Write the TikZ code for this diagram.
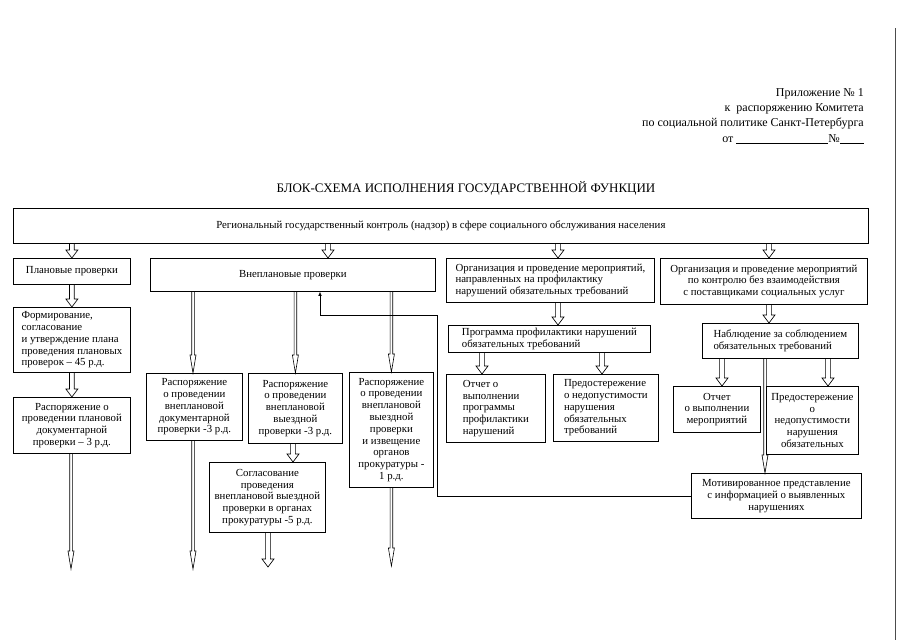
\documentclass[tikz,border=0pt]{standalone}
\usepackage{fontspec}
\setmainfont{Liberation Serif}
\usetikzlibrary{calc,arrows.meta}
\newcommand\bxfont{\fontsize{10.8}{11.8}\selectfont}
\begin{document}
\begin{tikzpicture}[x=1pt,y=-1pt,
  box/.style={draw, line width=0.8pt, anchor=north west, inner xsep=2pt, inner ysep=0pt, font=\bxfont},
  harrow/.style={draw, line width=0.65pt, to path={
    let \p1=(\tikztostart), \p2=(\tikztotarget) in
    (\x1-2.4pt,\y1) -- (\x1-2.4pt,\y2+8pt) -- (\x1-6pt,\y2+8pt) -- (\x1,\y2)
    -- (\x1+6pt,\y2+8pt) -- (\x1+2.4pt,\y2+8pt) -- (\x1+2.4pt,\y1)}},
  narrow/.style={draw, line width=0.6pt, to path={
    let \p1=(\tikztostart), \p2=(\tikztotarget) in
    (\x1-1.3pt,\y1) -- (\x1-1.3pt,\y2+18pt) -- (\x1-3pt,\y2+18pt) -- (\x1,\y2)
    -- (\x1+3pt,\y2+18pt) -- (\x1+1.3pt,\y2+18pt) -- (\x1+1.3pt,\y1)}},
  fb/.style={draw, line width=0.6pt, -{Latex[length=4pt,width=3.5pt]}},
]
\useasboundingbox (0,0) rectangle (905,640);
\fill[white] (0,0) rectangle (905,640);

% header
\node[anchor=north east, align=right, font=\fontsize{12}{15.4}\selectfont, inner sep=0pt] (hdr) at (864,88)
  {Приложение № 1\\ к\ \ распоряжению Комитета\\ по социальной политике Санкт-Петербурга\\
   от \rule[-1.6pt]{92pt}{0.5pt}№\rule[-1.6pt]{24pt}{0.5pt}};
\node[font=\fontsize{13}{14}\selectfont, inner sep=0pt] (title) at (466,188)
  {БЛОК-СХЕМА ИСПОЛНЕНИЯ ГОСУДАРСТВЕННОЙ ФУНКЦИИ};

% boxes
\node[box, minimum width=855pt, minimum height=35pt] (top) at (13,208)
  {Региональный государственный контроль (надзор) в сфере социального обслуживания населения};
\node[box, minimum width=117pt, minimum height=26pt] (plan) at (13,258) {Плановые проверки};
\node[box, minimum width=285pt, minimum height=33pt] (vnep) at (150,258) {Внеплановые проверки\\[6pt]};
\node[box, minimum width=208pt, minimum height=44pt, align=left] (org1) at (446,258)
  {Организация и проведение мероприятий,\\ направленных на профилактику\\ нарушений обязательных требований};
\node[box, minimum width=207pt, minimum height=46pt, align=center] (org2) at (660,258)
  {Организация и проведение мероприятий\\ по контролю без взаимодействия\\ с поставщиками социальных услуг};

\node[box, minimum width=117pt, minimum height=65pt, align=left] (form) at (13,307)
  {Формирование,\\ согласование\\ и утверждение плана\\ проведения плановых\\ проверок – 45 р.д.};
\node[box, minimum width=117pt, minimum height=56pt, align=center] (rasp1) at (13,397)
  {Распоряжение о\\ проведении плановой\\ документарной\\ проверки – 3 р.д.};

\node[box, minimum width=96pt, minimum height=67pt, align=center] (vr1) at (146,373)
  {Распоряжение\\ о проведении\\ внеплановой\\ документарной\\ проверки -3 р.д.};
\node[box, minimum width=94pt, minimum height=70pt, align=center] (vr2) at (248,373)
  {Распоряжение\\ о проведении\\ внеплановой\\ выездной\\ проверки -3 р.д.};
\node[box, minimum width=84pt, minimum height=115pt, align=center] (vr3) at (349,372)
  {Распоряжение\\ о проведении\\ внеплановой\\ выездной\\ проверки\\ и извещение\\ органов\\ прокуратуры -\\ 1 р.д.};
\node[box, minimum width=116pt, minimum height=70pt, align=center] (sogl) at (209,462)
  {Согласование\\ проведения\\ внеплановой выездной\\ проверки в органах\\ прокуратуры -5 р.д.};

\node[box, minimum width=202pt, minimum height=27pt, align=left] (prog) at (448,325)
  {Программа профилактики нарушений\\ обязательных требований};
\node[box, minimum width=99pt, minimum height=68pt, align=left] (ot1) at (446,374)
  {Отчет о\\ выполнении\\ программы\\ профилактики\\ нарушений};
\node[box, minimum width=105pt, minimum height=67pt, align=left] (pr1) at (553,374)
  {Предостережение\\ о недопустимости\\ нарушения\\ обязательных\\ требований};

\node[box, minimum width=156pt, minimum height=35pt, align=left] (nabl) at (702,323)
  {Наблюдение за соблюдением\\ обязательных требований};
\node[box, minimum width=87pt, minimum height=46pt, align=center] (ot2) at (673,386)
  {Отчет\\ о выполнении\\ мероприятий};
\node[box, minimum width=92pt, minimum height=68pt, align=center] (pr2) at (766,386)
  {Предостережение\\ о\\ недопустимости\\ нарушения\\ обязательных};
\node[box, minimum width=170pt, minimum height=45pt, align=center] (motiv) at (691,473)
  {Мотивированное представление\\ с информацией о выявленных\\ нарушениях};

% helper coordinates
\coordinate (ax1) at (328,0);
\coordinate (ax2) at (558,0);
\coordinate (ax3) at (769,0);
\coordinate (ax4) at (482,0);
\coordinate (ax5) at (602,0);
\coordinate (ax6) at (722,0);
\coordinate (ax7) at (828,0);
\coordinate (ax8) at (293,0);
\coordinate (ax10) at (765,0);
\coordinate (e0) at (71,569);
\coordinate (e1) at (193,569);
\coordinate (e2) at (268,567);
\coordinate (e3) at (391,566);
\coordinate (fbx) at (437,315);

% wide hollow arrows
\path[harrow] (top.south -| plan.north) to (plan.north);
\path[harrow] (top.south -| ax1) to (vnep.north);
\path[harrow] (top.south -| ax2) to (org1.north);
\path[harrow] (top.south -| ax3) to (org2.north);
\path[harrow] (plan.south) to (form.north);
\path[harrow] (form.south) to (rasp1.north);
\path[harrow] (vr2.south -| ax8) to (sogl.north);
\path[harrow] (sogl.south -| e2) to (e2);
\path[harrow] (org1.south -| ax2) to (prog.north);
\path[harrow] (org2.south -| ax3) to (nabl.north);
\path[harrow] (prog.south -| ax4) to (ot1.north);
\path[harrow] (prog.south -| ax5) to (pr1.north);
\path[harrow] (nabl.south -| ax6) to (ot2.north);
\path[harrow] (nabl.south -| ax7) to (pr2.north);

% narrow hollow arrows
\path[narrow] (vnep.south -| e1) to (vr1.north);
\path[narrow] (vnep.south -| vr2.north) to (vr2.north);
\path[narrow] (vnep.south -| vr3.north) to (vr3.north);
\path[narrow] (rasp1.south -| e0) to (e0);
\path[narrow] (vr1.south -| e1) to (e1);
\path[narrow] (vr3.south) to (e3);
\path[narrow] (nabl.south -| ax10) to (motiv.north);

% feedback
\draw[fb] (motiv.west) -| (fbx) -| ([xshift=170pt]vnep.south west);

% scan border line
\draw[black!70, line width=0.5pt] (895,28) -- (895,640);
\end{tikzpicture}
\end{document}
